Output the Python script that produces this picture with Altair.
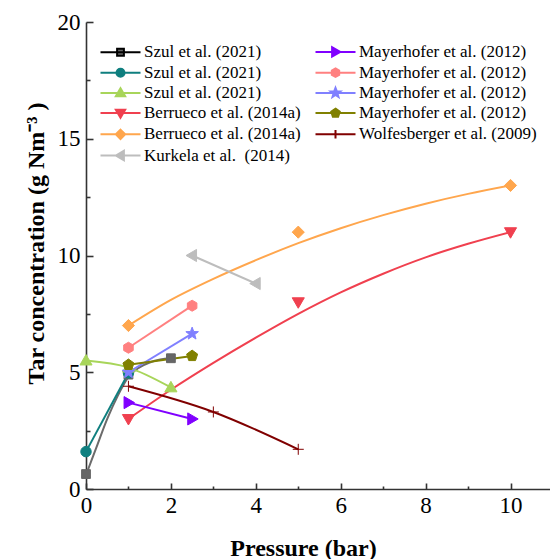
import math
import altair as alt
import pandas as pd

# ---------------- data ----------------
SERIES = [
    "Szul et al. (2021)|a",
    "Szul et al. (2021)|b",
    "Szul et al. (2021)|c",
    "Berrueco et al. (2014a)|a",
    "Berrueco et al. (2014a)|b",
    "Kurkela et al.\u00a0 (2014)|a",
    "Mayerhofer et al. (2012)|a",
    "Mayerhofer et al. (2012)|b",
    "Mayerhofer et al. (2012)|c",
    "Mayerhofer et al. (2012)|d",
    "Wolfesberger et al. (2009)|a",
]

# marker points
szul_a_x = [0, 1, 2]
szul_a_y = [0.64, 4.9, 5.6]
szul_b_x = [0, 1]
szul_b_y = [1.6, 4.97]
szul_c_x = [0, 1, 2]
szul_c_y = [5.5, 5.2, 4.35]
berr_a_x = [1, 5, 10]
berr_a_y = [3.0, 8.0, 11.0]
berr_b_x = [1, 5, 10]
berr_b_y = [7.0, 11.0, 13.0]
kurk_x = [2.5, 4]
kurk_y = [10.0, 8.8]
may_a_x = [1, 2.5]
may_a_y = [3.7, 3.0]
may_b_x = [1, 2.5]
may_b_y = [6.05, 7.85]
may_c_x = [1, 2.5]
may_c_y = [5.0, 6.65]
may_d_x = [1, 2.5]
may_d_y = [5.32, 5.7]
wolf_x = [1, 3, 5]
wolf_y = [4.4, 3.3, 1.7]

# fitted curves
szul_a_fit_x = [0, 0.25, 0.5, 0.75, 1.0, 1.25, 1.5, 1.75, 2.0]
szul_a_fit_y = [0.6, 1.8, 3.0, 4.0, 4.8, 5.2, 5.42, 5.55, 5.6]
berr_a_fit_x = [1, 2, 3, 4, 5, 6, 7, 8, 9, 10]
berr_a_fit_y = [3.0, 4.25, 5.4, 6.48, 7.5, 8.42, 9.22, 9.92, 10.5, 11.0]
berr_b_fit_x = [1, 2, 3, 4, 5, 6, 7, 8, 9, 10]
berr_b_fit_y = [7.0, 8.1, 9.0, 9.8, 10.53, 11.17, 11.73, 12.22, 12.64, 13.0]

MARKER_COLORS = ["#666666", "#0F7F7F", "#A8D55A", "#F0404F", "#FFA64D", "#BDBDBD",
                 "#8000FF", "#FF8080", "#8080FF", "#808000", "#800000"]
LINE_COLORS = ["#6B6B6B"] + MARKER_COLORS[1:]
LEGEND_LINE_COLORS = ["#000000"] + MARKER_COLORS[1:]
MARKERS = ["square", "circle", "triangle-up", "triangle-down", "diamond", "triangle-left",
           "triangle-right", "hexagon", "star", "pentagon", "plus"]

x_ticks = [0, 2, 4, 6, 8, 10]
x_minor = [1, 3, 5, 7, 9]
y_ticks = [0, 5, 10, 15, 20]
y_minor = [2.5, 7.5, 12.5, 17.5]

# ---------------- tables ----------------
marker_sets = [
    (szul_a_x, szul_a_y), (szul_b_x, szul_b_y), (szul_c_x, szul_c_y),
    (berr_a_x, berr_a_y), (berr_b_x, berr_b_y), (kurk_x, kurk_y),
    (may_a_x, may_a_y), (may_b_x, may_b_y), (may_c_x, may_c_y), (may_d_x, may_d_y),
    (wolf_x, wolf_y),
]
line_sets = list(marker_sets)
line_sets[0] = (szul_a_fit_x, szul_a_fit_y)
line_sets[3] = (berr_a_fit_x, berr_a_fit_y)
line_sets[4] = (berr_b_fit_x, berr_b_fit_y)

pts_rows, line_rows = [], []
for s, (xs, ys) in zip(SERIES, marker_sets):
    for xv, yv in zip(xs, ys):
        pts_rows.append({"series": s, "x": xv, "y": yv})
for s, (xs, ys) in zip(SERIES, line_sets):
    for xv, yv in zip(xs, ys):
        line_rows.append({"series": s, "x": xv, "y": yv})
df_pts = pd.DataFrame(pts_rows)
df_lines = pd.DataFrame(line_rows)


# ---------------- marker shapes (unit SVG paths) ----------------
def _poly(pts):
    return "M" + "L".join(f"{px:.3f},{py:.3f}" for px, py in pts) + "Z"


def _ngon(n, r):
    return [(r * math.cos(math.radians(-90 + 360 * i / n)),
             r * math.sin(math.radians(-90 + 360 * i / n))) for i in range(n)]


def _star(ro, ri):
    pts = []
    for i in range(10):
        r = ro if i % 2 == 0 else ri
        a = math.radians(-90 + 36 * i)
        pts.append((r * math.cos(a), r * math.sin(a)))
    return pts


def marker_path(kind, k=1.0):
    if kind == "square":
        return _poly([(-0.8 * k, -0.8 * k), (0.8 * k, -0.8 * k), (0.8 * k, 0.8 * k), (-0.8 * k, 0.8 * k)])
    if kind == "circle":
        r = 0.95 * k
        return f"M{-r:.3f},0A{r:.3f},{r:.3f} 0 1,0 {r:.3f},0A{r:.3f},{r:.3f} 0 1,0 {-r:.3f},0Z"
    if kind == "triangle-up":
        return _poly([(0, -1.1 * k), (1.1 * k, 0.8 * k), (-1.1 * k, 0.8 * k)])
    if kind == "triangle-down":
        return _poly([(0, 1.1 * k), (1.1 * k, -0.8 * k), (-1.1 * k, -0.8 * k)])
    if kind == "diamond":
        return _poly([(0, -1.1 * k), (1.1 * k, 0), (0, 1.1 * k), (-1.1 * k, 0)])
    if kind == "triangle-left":
        return _poly([(-1.1 * k, 0), (0.8 * k, -1.1 * k), (0.8 * k, 1.1 * k)])
    if kind == "triangle-right":
        return _poly([(1.1 * k, 0), (-0.8 * k, -1.1 * k), (-0.8 * k, 1.1 * k)])
    if kind == "hexagon":
        return _poly(_ngon(6, 1.0 * k))
    if kind == "star":
        return _poly(_star(1.2 * k, 0.5 * k))
    if kind == "pentagon":
        return _poly(_ngon(5, 1.05 * k))
    if kind == "plus":
        return f"M{-1.0 * k:.3f},0H{1.0 * k:.3f}M0,{-1.0 * k:.3f}V{1.0 * k:.3f}"
    raise ValueError(kind)


plot_shapes = [marker_path(m, 1.05) for m in MARKERS]
legend_shapes = ["M-4,0H4" + marker_path(m, 0.85) for m in MARKERS]

FONT = "Liberation Serif"
AX = "#333333"

x_scale = alt.Scale(domain=[0, 10.93], nice=False, zero=False)
y_scale = alt.Scale(domain=[0, 20], nice=False, zero=False)

# ---------------- axes ----------------
main_x = alt.Axis(
    orient="bottom", values=x_ticks, format="d", ticks=False, tickSize=0, grid=False,
    domain=True, domainColor=AX, domainWidth=1.6,
    labelFont=FONT, labelFontSize=23, labelColor="black", labelPadding=5,
    labelFlush=False, labelOverlap=False, labelBound=False,
    title="Pressure (bar)", titleFont=FONT, titleFontSize=24, titleFontWeight="bold",
    titleColor="black", titleX=217, titleY=66, titleAlign="center", titleBaseline="alphabetic",
)
main_y = alt.Axis(
    orient="left", values=y_ticks, format="d", ticks=False, tickSize=0, grid=False,
    domain=True, domainColor=AX, domainWidth=1.6,
    labelFont=FONT, labelFontSize=23, labelColor="black", labelPadding=6,
    labelFlush=False, labelOverlap=False, labelBound=False,
    title="Tar concentration (g Nm\u207b\u00b3 )", titleFont=FONT, titleFontSize=24,
    titleFontWeight="bold", titleColor="black", titleX=-43, titleY=221, titleAngle=270,
    titleAlign="center", titleBaseline="alphabetic",
)
major_x = alt.Axis(orient="bottom", values=x_ticks, offset=-6, tickSize=6, tickWidth=1.6,
                   tickColor=AX, domain=False, labels=False, title=None, grid=False)
major_y = alt.Axis(orient="left", values=y_ticks, offset=-7, tickSize=7, tickWidth=1.6,
                   tickColor=AX, domain=False, labels=False, title=None, grid=False)
minor_x = alt.Axis(orient="bottom", values=x_minor, offset=-3, tickSize=3, tickWidth=1.6,
                   tickColor=AX, domain=False, labels=False, title=None, grid=False)
minor_y = alt.Axis(orient="left", values=y_minor, offset=-4, tickSize=4, tickWidth=1.6,
                   tickColor=AX, domain=False, labels=False, title=None, grid=False)

legend = alt.Legend(
    orient="none", legendX=26, legendY=21, columns=2, direction="vertical", title=None,
    labelFont=FONT, labelFontSize=17, labelColor="black", labelLimit=400,
    labelExpr="split(datum.label, '|')[0]",
    symbolSize=100, symbolStrokeWidth=2, symbolOpacity=1,
    labelOffset=15, rowPadding=2.2, columnPadding=10, padding=0,
)

lines = alt.Chart(df_lines).mark_line(strokeWidth=2, interpolate="monotone").encode(
    x=alt.X("x:Q", scale=x_scale, axis=main_x),
    y=alt.Y("y:Q", scale=y_scale, axis=main_y),
    stroke=alt.Stroke("series:N", scale=alt.Scale(domain=SERIES, range=LINE_COLORS), legend=None),
)

points = alt.Chart(df_pts).mark_point(filled=True, size=110, strokeWidth=1, opacity=1).encode(
    x=alt.X("x:Q", scale=x_scale, axis=major_x),
    y=alt.Y("y:Q", scale=y_scale, axis=major_y),
    fill=alt.Fill("series:N", scale=alt.Scale(domain=SERIES, range=MARKER_COLORS), legend=None),
    stroke=alt.Stroke("series:N", scale=alt.Scale(domain=SERIES, range=MARKER_COLORS), legend=None),
    shape=alt.Shape("series:N", scale=alt.Scale(domain=SERIES, range=plot_shapes), legend=None),
)

legend_layer = alt.Chart(df_pts).transform_filter("false").mark_point(
    filled=True, size=100, strokeWidth=2, opacity=1
).encode(
    x=alt.X("x:Q", scale=x_scale, axis=minor_x),
    y=alt.Y("y:Q", scale=y_scale, axis=minor_y),
    fill=alt.Fill("series:N", scale=alt.Scale(domain=SERIES, range=MARKER_COLORS), legend=legend),
    stroke=alt.Stroke("series:N", scale=alt.Scale(domain=SERIES, range=LEGEND_LINE_COLORS),
                      legend=legend),
    shape=alt.Shape("series:N", scale=alt.Scale(domain=SERIES, range=legend_shapes), legend=legend),
)

chart = alt.layer(lines, points, legend_layer).resolve_scale(
    fill="independent", stroke="independent", shape="independent"
).resolve_axis(
    x="independent", y="independent"
).properties(
    width=464, height=467,
    autosize=alt.AutoSizeParams(type="none"),
    padding={"left": 86, "top": 22, "right": 0, "bottom": 70},
    background="white",
).configure_view(strokeWidth=0)

chart.save("out.html", embed_options={"renderer": "svg", "actions": False})
